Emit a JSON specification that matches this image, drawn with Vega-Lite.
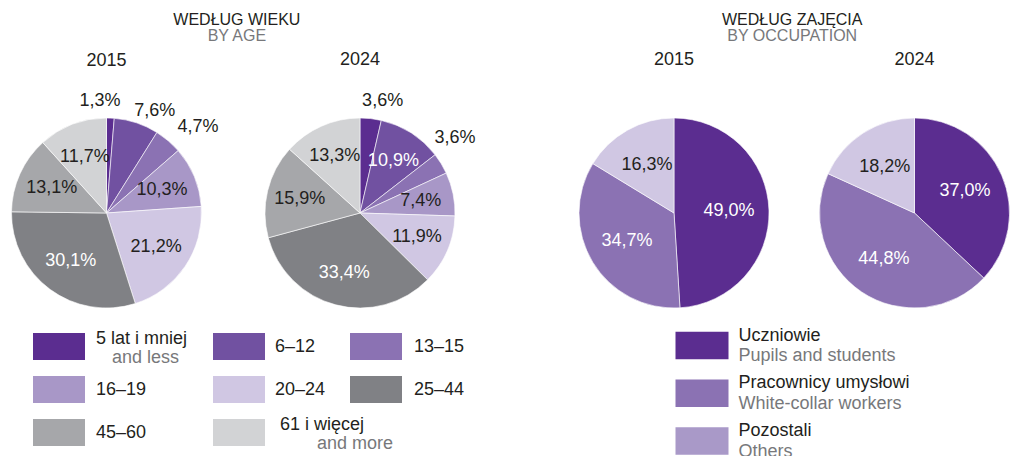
{
  "$schema": "https://vega.github.io/schema/vega-lite/v6.json",
  "padding": {"left": 9.5, "top": 11, "right": 0, "bottom": 0},
  "config": {
    "font": "Liberation Sans",
    "view": {"stroke": null},
    "title": {"font": "Liberation Sans", "fontSize": 18, "fontWeight": "normal", "color": "#231f20", "subtitleFont": "Liberation Sans", "subtitleColor": "#77787b", "subtitleFontSize": 16},
    "locale": {"number": {"decimal": ",", "thousands": " ", "grouping": [3], "currency": ["", "%"]}}
  },
  "datasets": {
    "pies": [
      {"section": "age", "year": "2015", "group": "5 lat i mniej", "order": 0, "value": 1.3},
      {"section": "age", "year": "2015", "group": "6–12", "order": 1, "value": 7.6},
      {"section": "age", "year": "2015", "group": "13–15", "order": 2, "value": 4.7},
      {"section": "age", "year": "2015", "group": "16–19", "order": 3, "value": 10.3},
      {"section": "age", "year": "2015", "group": "20–24", "order": 4, "value": 21.2},
      {"section": "age", "year": "2015", "group": "25–44", "order": 5, "value": 30.1},
      {"section": "age", "year": "2015", "group": "45–60", "order": 6, "value": 13.1},
      {"section": "age", "year": "2015", "group": "61 i więcej", "order": 7, "value": 11.7},
      {"section": "age", "year": "2024", "group": "5 lat i mniej", "order": 0, "value": 3.6},
      {"section": "age", "year": "2024", "group": "6–12", "order": 1, "value": 10.9},
      {"section": "age", "year": "2024", "group": "13–15", "order": 2, "value": 3.6},
      {"section": "age", "year": "2024", "group": "16–19", "order": 3, "value": 7.4},
      {"section": "age", "year": "2024", "group": "20–24", "order": 4, "value": 11.9},
      {"section": "age", "year": "2024", "group": "25–44", "order": 5, "value": 33.4},
      {"section": "age", "year": "2024", "group": "45–60", "order": 6, "value": 15.9},
      {"section": "age", "year": "2024", "group": "61 i więcej", "order": 7, "value": 13.3},
      {"section": "occ", "year": "2015", "group": "Uczniowie", "order": 0, "value": 49.0},
      {"section": "occ", "year": "2015", "group": "Pracownicy umysłowi", "order": 1, "value": 34.7},
      {"section": "occ", "year": "2015", "group": "Pozostali", "order": 2, "value": 16.3},
      {"section": "occ", "year": "2024", "group": "Uczniowie", "order": 0, "value": 37.0},
      {"section": "occ", "year": "2024", "group": "Pracownicy umysłowi", "order": 1, "value": 44.8},
      {"section": "occ", "year": "2024", "group": "Pozostali", "order": 2, "value": 18.2}
    ],
    "legAge": [
      {"group": "5 lat i mniej", "en": "and less", "order": 0},
      {"group": "6–12", "en": "", "order": 1},
      {"group": "13–15", "en": "", "order": 2},
      {"group": "16–19", "en": "", "order": 3},
      {"group": "20–24", "en": "", "order": 4},
      {"group": "25–44", "en": "", "order": 5},
      {"group": "45–60", "en": "", "order": 6},
      {"group": "61 i więcej", "en": "and more", "order": 7}
    ],
    "legOcc": [
      {"group": "Uczniowie", "en": "Pupils and students", "order": 0},
      {"group": "Pracownicy umysłowi", "en": "White-collar workers", "order": 1},
      {"group": "Pozostali", "en": "Others", "order": 2}
    ]
  },
  "spacing": 101.5,
  "resolve": {"scale": {"color": "independent"}},
  "hconcat": [
    {
      "spacing": 19.5,
      "resolve": {"scale": {"color": "independent"}},
      "vconcat": [
        {
          "title": {"text": "WEDŁUG WIEKU", "subtitle": "BY AGE", "fontSize": 16, "subtitlePadding": 0, "offset": 7, "dx": -6, "anchor": "middle"},
          "spacing": 63.5,
          "bounds": "flush",
          "hconcat": [
            {
              "width": 190, "height": 190,
              "title": {"text": "2015", "offset": 22, "frame": "group"},
              "data": {"name": "pies"},
              "transform": [{"filter": "datum.section == 'age' && datum.year == '2015'"}],
              "encoding": {
                "theta": {"field": "value", "type": "quantitative", "stack": true},
                "order": {"field": "order", "type": "quantitative"}
              },
              "layer": [
                {"mark": {"type": "arc", "outerRadius": 95, "stroke": "#ffffff", "strokeWidth": 0.6},
                 "encoding": {"color": {"field": "group", "type": "nominal", "legend": null, "scale": {"domain": ["5 lat i mniej", "6–12", "13–15", "16–19", "20–24", "25–44", "45–60", "61 i więcej"], "range": ["#5b2d90", "#7151a1", "#8b72b3", "#a897c7", "#d0c7e3", "#808185", "#a6a7aa", "#d2d3d5"]}}}},
                {"mark": {"type": "text", "fontSize": 18,
                          "radius": {"expr": "(datum.group == '5 lat i mniej' || datum.group == '6–12') ? 112 : (datum.group == '13–15' ? 124 : 60)"},
                          "dx": {"expr": "datum.group == '5 lat i mniej' ? -11 : (datum.group == '6–12' ? 13 : (datum.group == '13–15' ? 11 : 0))"},
                          "dy": {"expr": "datum.group == '13–15' ? 8 : (datum.group == '6–12' ? 4 : 0)"}},
                 "encoding": {
                   "detail": {"field": "group", "type": "nominal"},
                   "text": {"field": "value", "type": "quantitative", "format": "$.1f"},
                   "color": {"condition": {"test": "datum.group == '25–44'", "value": "#ffffff"}, "value": "#231f20"}
                 }}
              ]
            },
            {
              "width": 190, "height": 190,
              "title": {"text": "2024", "offset": 22.5, "frame": "group"},
              "data": {"name": "pies"},
              "transform": [{"filter": "datum.section == 'age' && datum.year == '2024'"}],
              "encoding": {
                "theta": {"field": "value", "type": "quantitative", "stack": true},
                "order": {"field": "order", "type": "quantitative"}
              },
              "layer": [
                {"mark": {"type": "arc", "outerRadius": 95, "stroke": "#ffffff", "strokeWidth": 0.6},
                 "encoding": {"color": {"field": "group", "type": "nominal", "legend": null, "scale": {"domain": ["5 lat i mniej", "6–12", "13–15", "16–19", "20–24", "25–44", "45–60", "61 i więcej"], "range": ["#5b2d90", "#7151a1", "#8b72b3", "#a897c7", "#d0c7e3", "#808185", "#a6a7aa", "#d2d3d5"]}}}},
                {"mark": {"type": "text", "fontSize": 18,
                          "radius": {"expr": "datum.group == '5 lat i mniej' ? 112 : (datum.group == '13–15' ? 124 : 62)"},
                          "dx": {"expr": "datum.group == '5 lat i mniej' ? 10 : (datum.group == '13–15' ? -11 : 0)"},
                          "dy": {"expr": "datum.group == '13–15' ? -11 : (datum.group == '5 lat i mniej' ? -1 : 0)"}},
                 "encoding": {
                   "detail": {"field": "group", "type": "nominal"},
                   "text": {"field": "value", "type": "quantitative", "format": "$.1f"},
                   "color": {"condition": {"test": "datum.group == '25–44' || datum.group == '6–12'", "value": "#ffffff"}, "value": "#231f20"}
                 }}
              ]
            }
          ]
        },
        {
          "spacing": 0,
          "bounds": "flush",
          "hconcat": [
            {
              "width": 95, "height": 86,
              "data": {"name": "legAge"},
              "transform": [{"filter": "datum.order % 3 == 0"}],
              "encoding": {"y": {"field": "order", "type": "quantitative", "axis": null, "scale": {"domain": [0, 6], "reverse": true, "zero": false, "nice": false}}},
              "layer": [
                {"mark": {"type": "point", "shape": "M-1,-0.52H1V0.52H-1Z", "size": 2704, "filled": true, "opacity": 1, "strokeWidth": 0},
                 "encoding": {"color": {"field": "group", "type": "nominal", "legend": null, "scale": {"domain": ["5 lat i mniej", "6–12", "13–15", "16–19", "20–24", "25–44", "45–60", "61 i więcej"], "range": ["#5b2d90", "#7151a1", "#8b72b3", "#a897c7", "#d0c7e3", "#808185", "#a6a7aa", "#d2d3d5"]}}}},
                {"transform": [{"filter": "datum.en == ''"}],
                 "mark": {"type": "text", "align": "left", "dx": 37, "fontSize": 18, "color": "#231f20"},
                 "encoding": {"text": {"field": "group", "type": "nominal"}}},
                {"transform": [{"filter": "datum.en != ''"}],
                 "mark": {"type": "text", "align": "left", "dx": 37, "dy": -8, "fontSize": 18, "color": "#231f20"},
                 "encoding": {"text": {"field": "group", "type": "nominal"}}},
                {"transform": [{"filter": "datum.en != ''"}],
                 "mark": {"type": "text", "align": "left", "dx": 53, "dy": 11.5, "fontSize": 18, "color": "#77787b"},
                 "encoding": {"text": {"field": "en", "type": "nominal"}}}
              ]
            },
            {
              "width": 265, "height": 86,
              "data": {"name": "legAge"},
              "transform": [{"filter": "datum.order % 3 == 1"}],
              "encoding": {"y": {"field": "order", "type": "quantitative", "axis": null, "scale": {"domain": [1, 7], "reverse": true, "zero": false, "nice": false}}},
              "layer": [
                {"mark": {"type": "point", "shape": "M-1,-0.52H1V0.52H-1Z", "size": 2704, "filled": true, "opacity": 1, "strokeWidth": 0},
                 "encoding": {"color": {"field": "group", "type": "nominal", "legend": null, "scale": {"domain": ["5 lat i mniej", "6–12", "13–15", "16–19", "20–24", "25–44", "45–60", "61 i więcej"], "range": ["#5b2d90", "#7151a1", "#8b72b3", "#a897c7", "#d0c7e3", "#808185", "#a6a7aa", "#d2d3d5"]}}}},
                {"transform": [{"filter": "datum.en == ''"}],
                 "mark": {"type": "text", "align": "left", "dx": 36, "fontSize": 18, "color": "#231f20"},
                 "encoding": {"text": {"field": "group", "type": "nominal"}}},
                {"transform": [{"filter": "datum.en != ''"}],
                 "mark": {"type": "text", "align": "left", "dx": 41, "dy": -8, "fontSize": 18, "color": "#231f20"},
                 "encoding": {"text": {"field": "group", "type": "nominal"}}},
                {"transform": [{"filter": "datum.en != ''"}],
                 "mark": {"type": "text", "align": "left", "dx": 78, "dy": 11.5, "fontSize": 18, "color": "#77787b"},
                 "encoding": {"text": {"field": "en", "type": "nominal"}}}
              ]
            },
            {
              "width": 9, "height": 86,
              "data": {"name": "legAge"},
              "transform": [{"filter": "datum.order % 3 == 2"}],
              "encoding": {"y": {"field": "order", "type": "quantitative", "axis": null, "scale": {"domain": [2, 8], "reverse": true, "zero": false, "nice": false}}},
              "layer": [
                {"mark": {"type": "point", "shape": "M-1,-0.52H1V0.52H-1Z", "size": 2704, "filled": true, "opacity": 1, "strokeWidth": 0},
                 "encoding": {"color": {"field": "group", "type": "nominal", "legend": null, "scale": {"domain": ["5 lat i mniej", "6–12", "13–15", "16–19", "20–24", "25–44", "45–60", "61 i więcej"], "range": ["#5b2d90", "#7151a1", "#8b72b3", "#a897c7", "#d0c7e3", "#808185", "#a6a7aa", "#d2d3d5"]}}}},
                {"mark": {"type": "text", "align": "left", "dx": 38, "fontSize": 18, "color": "#231f20"},
                 "encoding": {"text": {"field": "group", "type": "nominal"}}}
              ]
            }
          ]
        }
      ]
    },
    {
      "spacing": 16.5,
      "resolve": {"scale": {"color": "independent"}},
      "vconcat": [
        {
          "title": {"text": "WEDŁUG ZAJĘCIA", "subtitle": "BY OCCUPATION", "fontSize": 16, "subtitlePadding": 0, "offset": 7, "dx": -2, "anchor": "middle"},
          "spacing": 50.5,
          "bounds": "flush",
          "hconcat": [
            {
              "width": 190, "height": 190,
              "title": {"text": "2015", "offset": 48, "frame": "group"},
              "data": {"name": "pies"},
              "transform": [{"filter": "datum.section == 'occ' && datum.year == '2015'"}],
              "encoding": {
                "theta": {"field": "value", "type": "quantitative", "stack": true},
                "order": {"field": "order", "type": "quantitative"}
              },
              "layer": [
                {"mark": {"type": "arc", "outerRadius": 95, "stroke": "#ffffff", "strokeWidth": 0.6},
                 "encoding": {"color": {"field": "group", "type": "nominal", "legend": null, "scale": {"domain": ["Uczniowie", "Pracownicy umysłowi", "Pozostali"], "range": ["#5b2d90", "#8b72b3", "#d0c7e3"]}}}},
                {"mark": {"type": "text", "fontSize": 18, "radius": 55},
                 "encoding": {
                   "detail": {"field": "group", "type": "nominal"},
                   "text": {"field": "value", "type": "quantitative", "format": "$.1f"},
                   "color": {"condition": {"test": "datum.group != 'Pozostali'", "value": "#ffffff"}, "value": "#231f20"}
                 }}
              ]
            },
            {
              "width": 190, "height": 190,
              "title": {"text": "2024", "offset": 48, "frame": "group"},
              "data": {"name": "pies"},
              "transform": [{"filter": "datum.section == 'occ' && datum.year == '2024'"}],
              "encoding": {
                "theta": {"field": "value", "type": "quantitative", "stack": true},
                "order": {"field": "order", "type": "quantitative"}
              },
              "layer": [
                {"mark": {"type": "arc", "outerRadius": 95, "stroke": "#ffffff", "strokeWidth": 0.6},
                 "encoding": {"color": {"field": "group", "type": "nominal", "legend": null, "scale": {"domain": ["Uczniowie", "Pracownicy umysłowi", "Pozostali"], "range": ["#5b2d90", "#8b72b3", "#d0c7e3"]}}}},
                {"mark": {"type": "text", "fontSize": 18, "radius": 55},
                 "encoding": {
                   "detail": {"field": "group", "type": "nominal"},
                   "text": {"field": "value", "type": "quantitative", "format": "$.1f"},
                   "color": {"condition": {"test": "datum.group != 'Pozostali'", "value": "#ffffff"}, "value": "#231f20"}
                 }}
              ]
            }
          ]
        },
        {
          "width": 246, "height": 95.5,
          "data": {"name": "legOcc"},
          "encoding": {"y": {"field": "order", "type": "quantitative", "axis": null, "scale": {"domain": [0, 2], "reverse": true, "zero": false, "nice": false}}},
          "layer": [
            {"mark": {"type": "point", "shape": "M-1,-0.52H1V0.52H-1Z", "size": 2809, "filled": true, "opacity": 1, "strokeWidth": 0},
             "encoding": {"color": {"field": "group", "type": "nominal", "legend": null, "scale": {"domain": ["Uczniowie", "Pracownicy umysłowi", "Pozostali"], "range": ["#5b2d90", "#8b72b3", "#a999c8"]}}}},
            {"mark": {"type": "text", "align": "left", "dx": 36.5, "dy": -10, "fontSize": 18, "color": "#231f20"},
             "encoding": {"text": {"field": "group", "type": "nominal"}}},
            {"mark": {"type": "text", "align": "left", "dx": 36.5, "dy": 10.5, "fontSize": 18, "color": "#77787b"},
             "encoding": {"text": {"field": "en", "type": "nominal"}}}
          ]
        }
      ]
    }
  ]
}
